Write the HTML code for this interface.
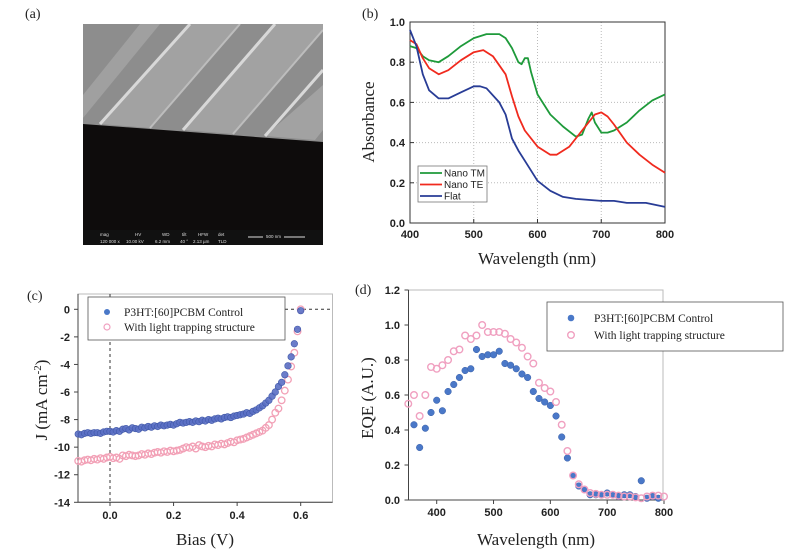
<!DOCTYPE html>
<html><head><meta charset="utf-8"><style>
html,body{margin:0;padding:0;background:#fff;width:802px;height:558px;overflow:hidden}
svg{display:block}
.tk{font-family:"Liberation Sans",sans-serif;font-size:11px;font-weight:bold;fill:#222}
.ti{font-family:"Liberation Serif",serif;font-size:17px;fill:#222}
.pl{font-family:"Liberation Serif",serif;font-size:14px;fill:#222}
.lg{font-family:"Liberation Sans",sans-serif;font-size:10px;fill:#222}
.lgs{font-family:"Liberation Serif",serif;font-size:11.5px;fill:#222}
</style></head><body>
<svg id="fig" width="802" height="558" viewBox="0 0 802 558" xmlns="http://www.w3.org/2000/svg">
<!-- Panel a -->
<g>
<text class="pl" x="25" y="18">(a)</text>
<g>
<rect x="83" y="24" width="240" height="221" fill="#0e0c0c"/>
<clipPath id="semclip"><rect x="83" y="24" width="240" height="206"/></clipPath>
<g clip-path="url(#semclip)">
<polygon points="83,24 323,24 323,142 83,124" fill="#8d8d8d"/>
<polygon points="100,124 150,128 240,24 190,24" fill="#a2a2a2"/>
<polygon points="183,130 233,134 323,30 323,24 275,24" fill="#a2a2a2"/>
<polygon points="265,136 315,140 323,130 323,85" fill="#a2a2a2"/>
<polygon points="83,95 83,118 160,24 140,24" fill="#a0a0a0"/>
<line x1="100" y1="124" x2="190" y2="24" stroke="#d8d8d8" stroke-width="3"/>
<line x1="183" y1="130" x2="275" y2="24" stroke="#d8d8d8" stroke-width="3"/>
<line x1="265" y1="136" x2="323" y2="70" stroke="#d8d8d8" stroke-width="3"/>
<line x1="150" y1="128" x2="240" y2="24" stroke="#bdbdbd" stroke-width="2"/>
<line x1="233" y1="134" x2="323" y2="30" stroke="#bdbdbd" stroke-width="2"/>
</g>
<rect x="83" y="230" width="240" height="15" fill="#111"/>
<g font-family="Liberation Sans,sans-serif" font-size="4.5" fill="#ddd">
<text x="100" y="236">mag</text><text x="100" y="243">120 000 x</text>
<text x="135" y="236">HV</text><text x="126" y="243">10.00 kV</text>
<text x="162" y="236">WD</text><text x="155" y="243">6.2 mm</text>
<text x="182" y="236">tilt</text><text x="180" y="243">40 °</text>
<text x="198" y="236">HFW</text><text x="193" y="243">2.13 µm</text>
<text x="218" y="236">det</text><text x="218" y="243">TLD</text>
<text x="266" y="238">500 nm</text>
</g>
<line x1="248" y1="237" x2="263" y2="237" stroke="#ddd" stroke-width="1"/>
<line x1="284" y1="237" x2="305" y2="237" stroke="#ddd" stroke-width="1"/>
</g>
</g>
<g id="pb"></g>
<g id="pc"></g>
<g id="pd"></g>
</svg>
<script>
// ---- Panel b data ----
const tmX=[400,410,420,430,445,460,480,500,520,540,550,560,570,575,580,585,590,600,620,640,660,670,680,685,690,700,710,720,740,760,780,800];
const tmY=[.88,.87,.83,.81,.80,.83,.88,.92,.94,.94,.92,.87,.80,.79,.82,.82,.75,.64,.54,.48,.43,.44,.52,.55,.50,.45,.45,.46,.50,.56,.61,.64];
const teX=[400,410,420,430,445,460,480,500,515,530,550,560,570,580,600,620,630,650,670,690,700,710,720,740,760,780,800];
const teY=[.91,.89,.82,.77,.74,.76,.81,.85,.86,.83,.74,.63,.53,.46,.38,.34,.34,.38,.46,.54,.55,.53,.49,.40,.34,.29,.25];
const flX=[400,410,420,430,445,460,480,500,510,520,540,550,560,570,580,600,620,640,660,700,720,740,770,800];
const flY=[.96,.88,.74,.66,.62,.62,.65,.68,.68,.67,.60,.54,.42,.36,.31,.21,.16,.13,.12,.11,.11,.10,.10,.08];
const bXTicks=[400,500,600,700,800];
const bYTicks=[0.0,0.2,0.4,0.6,0.8,1.0];
// ---- Panel c data ----
const jvX=[];for(let i=-10;i<=60;i++)jvX.push(i/100);
const jvCtrl=[-9.05,-9.1,-9.0,-8.95,-9.0,-8.95,-8.95,-9.0,-8.9,-8.85,
-8.85,-8.9,-8.8,-8.85,-8.7,-8.65,-8.75,-8.6,-8.65,-8.7,
-8.55,-8.6,-8.5,-8.55,-8.45,-8.5,-8.4,-8.45,-8.4,-8.35,
-8.4,-8.3,-8.2,-8.25,-8.2,-8.15,-8.2,-8.1,-8.15,-8.05,
-8.1,-8.0,-8.05,-7.95,-7.9,-7.95,-7.85,-7.8,-7.85,-7.75,
-7.7,-7.65,-7.6,-7.5,-7.55,-7.4,-7.3,-7.15,-7.0,-6.8,
-6.6,-6.3,-6.0,-5.6,-5.3,-4.75,-4.1,-3.45,-2.5,-1.45,-0.1];
const jvLT=[-11.0,-11.05,-10.95,-10.9,-10.95,-10.85,-10.9,-10.8,-10.85,-10.75,
-10.7,-10.8,-10.75,-10.85,-10.6,-10.65,-10.55,-10.6,-10.65,-10.6,
-10.5,-10.55,-10.45,-10.5,-10.4,-10.35,-10.4,-10.3,-10.35,-10.25,
-10.3,-10.25,-10.2,-10.1,-10.0,-10.05,-9.95,-10.1,-9.85,-9.95,
-10.0,-9.9,-9.95,-9.8,-9.85,-9.75,-9.8,-9.7,-9.6,-9.65,
-9.5,-9.45,-9.4,-9.3,-9.2,-9.1,-9.0,-8.9,-8.8,-8.6,
-8.4,-8.0,-7.5,-7.2,-6.6,-5.9,-5.1,-4.15,-3.15,-1.6,0];
const cXTicks=[0.0,0.2,0.4,0.6];
const cXLabels=["0.0","0.2","0.4","0.6"];
const cYTicks=[0,-2,-4,-6,-8,-10,-12,-14];
// ---- Panel d data ----
const eqeCX=[360,370,380,390,400,410,420,430,440,450,460,470,480,490,500,510,520,530,540,550,560,570,580,590,600,610,620,630,640,650,660,670,680,690,700,710,720,730,740,750,760,770,780,790];
const eqeC=[.43,.30,.41,.50,.57,.51,.62,.66,.70,.74,.75,.86,.82,.83,.83,.85,.78,.77,.75,.72,.70,.62,.58,.56,.54,.48,.36,.24,.14,.08,.06,.03,.03,.03,.04,.03,.02,.03,.03,.02,.11,.01,.02,.01];
const eqeLX=[350,360,370,380,390,400,410,420,430,440,450,460,470,480,490,500,510,520,530,540,550,560,570,580,590,600,610,620,630,640,650,660,670,680,690,700,710,720,730,740,750,760,770,780,790,800];
const eqeL=[.55,.60,.48,.60,.76,.75,.77,.80,.85,.86,.94,.92,.94,1.0,.96,.96,.96,.95,.92,.90,.87,.82,.78,.67,.64,.62,.56,.43,.28,.14,.09,.06,.04,.035,.03,.03,.03,.025,.02,.02,.015,.01,.02,.025,.025,.02];
const dXTicks=[400,500,600,700,800];
const dYTicks=[0.0,0.2,0.4,0.6,0.8,1.0,1.2];

const NS="http://www.w3.org/2000/svg";
function mk(parent,tag,attrs,text){const e=document.createElementNS(NS,tag);for(const k in attrs)e.setAttribute(k,attrs[k]);if(text!==undefined)e.textContent=text;parent.appendChild(e);return e;}
function lin(d0,d1,r0,r1){return v=>r0+(v-d0)*(r1-r0)/(d1-d0);}

// ===== Panel b =====
(function(){
const g=document.getElementById('pb');
const x=lin(400,800,410,665), y=lin(0,1,223,22);
let t=mk(g,'text',{class:'pl',x:362,y:18},'(b)');


bXTicks.forEach(v=>{if(v>400&&v<800){const l=mk(g,'line',{x1:x(v),x2:x(v),y1:22,y2:223,stroke:'#bbb','stroke-dasharray':'1,2'});}});
bYTicks.forEach(v=>{if(v>0&&v<1){const l=mk(g,'line',{x1:410,x2:665,y1:y(v),y2:y(v),stroke:'#bbb','stroke-dasharray':'1,2'});}});
const fr=mk(g,'rect',{x:410,y:22,width:255,height:201,fill:'none',stroke:'#333','stroke-width':1});

bXTicks.forEach(v=>{mk(g,'line',{x1:x(v),x2:x(v),y1:223,y2:219,stroke:'#333'});
 const tt=mk(g,'text',{class:'tk',x:x(v),y:238,'text-anchor':'middle'},String(v));
 });
bYTicks.forEach(v=>{mk(g,'line',{x1:410,x2:414,y1:y(v),y2:y(v),stroke:'#333'});
 const tt=mk(g,'text',{class:'tk',x:405,y:y(v)+4,'text-anchor':'end'},v.toFixed(1));
 });
t=mk(g,'text',{class:'ti',x:537,y:264,'text-anchor':'middle'},'Wavelength  (nm)');

t=mk(g,'text',{class:'ti',transform:'translate(374,122) rotate(-90)','text-anchor':'middle'},'Absorbance');

function line(xs,ys,c,name){const p=mk(g,'path',{d:xs.map((v,i)=>(i?'L':'M')+x(v).toFixed(1)+','+y(ys[i]).toFixed(1)).join(''),fill:'none',stroke:c,'stroke-width':1.8,'stroke-linejoin':'round'});}
line(tmX,tmY,'#1e9a3a','nano-tm-line');
line(teX,teY,'#f02a1e','nano-te-line');
line(flX,flY,'#283c96','flat-line');
const lb=mk(g,'rect',{x:418,y:166,width:69,height:36,fill:'#fff',stroke:'#777','stroke-width':0.8});

[['Nano TM','#1e9a3a'],['Nano TE','#f02a1e'],['Flat','#283c96']].forEach((e,i)=>{
 const yy=173+i*11.5;mk(g,'line',{x1:420,x2:442,y1:yy,y2:yy,stroke:e[1],'stroke-width':1.8});
 const tt=mk(g,'text',{class:'lg',x:444,y:yy+3.5},e[0]);});
})();

// ===== Panel c =====
(function(){
const g=document.getElementById('pc');
const x=lin(0,0.6,110,300.7), y=lin(0,-14,309.3,502.3);
let t=mk(g,'text',{class:'pl',x:27,y:300},'(c)');

const fr=mk(g,'rect',{x:78,y:294,width:254.5,height:208.3,fill:'none',stroke:'#bbb','stroke-width':1});

mk(g,'line',{x1:78,x2:78,y1:294,y2:502.3,stroke:'#444'});
mk(g,'line',{x1:78,x2:332.5,y1:502.3,y2:502.3,stroke:'#444'});
mk(g,'line',{x1:x(0),x2:x(0),y1:294,y2:502,stroke:'#333','stroke-dasharray':'3,3'});
mk(g,'line',{x1:285,x2:332,y1:y(0),y2:y(0),stroke:'#333','stroke-dasharray':'3,3'});
cXTicks.forEach((v,i)=>{mk(g,'line',{x1:x(v),x2:x(v),y1:502.3,y2:506,stroke:'#444'});
 const tt=mk(g,'text',{class:'tk',x:x(v),y:519,'text-anchor':'middle'},cXLabels[i]);
 });
cYTicks.forEach(v=>{mk(g,'line',{x1:74,x2:78,y1:y(v),y2:y(v),stroke:'#444'});
 const tt=mk(g,'text',{class:'tk',x:70,y:y(v)+4,'text-anchor':'end'},String(v));
 });
t=mk(g,'text',{class:'ti',x:205,y:545,'text-anchor':'middle'},'Bias (V)');

t=mk(g,'text',{class:'ti',transform:'translate(47,400) rotate(-90)','text-anchor':'middle'});
t.innerHTML='J (mA cm<tspan dy="-6" font-size="11">-2</tspan><tspan dy="6">)</tspan>';

jvX.forEach((v,i)=>{const c=mk(g,'circle',{cx:x(v),cy:y(jvLT[i]),r:3.3,fill:'none',stroke:'#f2a0b6','stroke-width':1.3});
 });
jvX.forEach((v,i)=>{const c=mk(g,'circle',{cx:x(v),cy:y(jvCtrl[i]),r:3.3,fill:'#5a6fc4',stroke:'#4058a8','stroke-width':0.6,'fill-opacity':0.9});
 });
const lb=mk(g,'rect',{x:88,y:297,width:197,height:43,fill:'#fff',stroke:'#555','stroke-width':0.8});

mk(g,'circle',{cx:107,cy:312,r:3,fill:'#4a78c8'});
mk(g,'circle',{cx:107,cy:327,r:3,fill:'none',stroke:'#f0a0c0','stroke-width':1.2});
t=mk(g,'text',{class:'lgs',x:124,y:316},'P3HT:[60]PCBM Control');
t=mk(g,'text',{class:'lgs',x:124,y:331},'With light trapping structure');
})();

// ===== Panel d =====
(function(){
const g=document.getElementById('pd');
const x=lin(400,800,436.7,664), y=lin(0,1.2,500,290);
let t=mk(g,'text',{class:'pl',x:355,y:294},'(d)');

const fr=mk(g,'rect',{x:408.5,y:290,width:254.5,height:210,fill:'none',stroke:'#bbb','stroke-width':1});

mk(g,'line',{x1:408.5,x2:408.5,y1:290,y2:500,stroke:'#444'});
mk(g,'line',{x1:408.5,x2:663,y1:500,y2:500,stroke:'#444'});
dXTicks.forEach(v=>{mk(g,'line',{x1:x(v),x2:x(v),y1:500,y2:504,stroke:'#444'});
 const tt=mk(g,'text',{class:'tk',x:x(v),y:516,'text-anchor':'middle'},String(v));
 });
dYTicks.forEach(v=>{mk(g,'line',{x1:404.5,x2:408.5,y1:y(v),y2:y(v),stroke:'#444'});
 const tt=mk(g,'text',{class:'tk',x:400,y:y(v)+4,'text-anchor':'end'},v.toFixed(1));
 });
t=mk(g,'text',{class:'ti',x:536,y:545,'text-anchor':'middle'},'Wavelength  (nm)');

t=mk(g,'text',{class:'ti',transform:'translate(373,398) rotate(-90)','text-anchor':'middle'},'EQE (A.U.)');

eqeCX.forEach((v,i)=>{const c=mk(g,'circle',{cx:x(v),cy:y(eqeC[i]),r:3.3,fill:'#4a78c8',stroke:'#3a60a8','stroke-width':0.5});
 });
eqeLX.forEach((v,i)=>{const c=mk(g,'circle',{cx:x(v),cy:y(eqeL[i]),r:3.3,fill:'none',stroke:'#f0a0c0','stroke-width':1.4});
 });
const lb=mk(g,'rect',{x:547,y:302,width:236,height:49,fill:'#fff',stroke:'#555','stroke-width':0.8});

mk(g,'circle',{cx:571,cy:318,r:3.3,fill:'#4a78c8'});
mk(g,'circle',{cx:571,cy:335,r:3.3,fill:'none',stroke:'#f0a0c0','stroke-width':1.4});
t=mk(g,'text',{class:'lgs',x:594,y:322},'P3HT:[60]PCBM Control');
t=mk(g,'text',{class:'lgs',x:594,y:339},'With light trapping structure');
})();
</script>
</body></html>
